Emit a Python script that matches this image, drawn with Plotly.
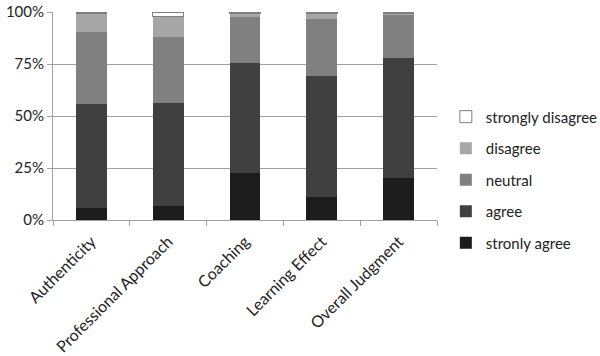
import plotly.graph_objects as go

categories = ["Authenticity", "Professional Approach", "Coaching", "Learning Effect", "Overall Judgment"]
strongly_agree = [5.6, 6.9, 22.5, 10.9, 20.4]
agree = [50.1, 49.4, 53.2, 58.1, 57.4]
neutral = [34.7, 31.5, 21.7, 27.6, 20.9]
disagree = [9.1, 10.2, 2.1, 2.9, 0.8]
strongly_disagree = [0.5, 2.0, 0.5, 0.5, 0.5]
series_names = ["stronly agree", "agree", "neutral", "disagree", "strongly disagree"]
y_ticks = [0, 0.25, 0.5, 0.75, 1.0]

series = [strongly_agree, agree, neutral, disagree, strongly_disagree]
colors = ["#1c1c1c", "#404040", "#808080", "#a6a6a6", "#ffffff"]
lines = ["#1c1c1c", "#404040", "#808080", "#a6a6a6", "#7f7f7f"]
widths = [0, 0, 0, 0, 1]

fig = go.Figure()
for i, (name, vals, c, lc, w) in enumerate(zip(series_names, series, colors, lines, widths)):
    fig.add_trace(go.Bar(
        x=categories, y=[v / 100 for v in vals], name=name, legendgroup=name,
        legendrank=100 - i,
        marker=dict(color=c, line=dict(color=lc, width=w)),
    ))

font = "Lato, 'Open Sans', sans-serif"
fig.update_layout(
    barmode="stack", bargap=0.6,
    width=600, height=356,
    margin=dict(l=53, r=163, t=12, b=136, autoexpand=False),
    paper_bgcolor="white", plot_bgcolor="white",
    font=dict(family=font, size=15, color="#222222"),
    legend=dict(x=1.023, y=0.575, xanchor="left", yanchor="top",
                traceorder="grouped", tracegroupgap=9,
                font=dict(size=15, color="#222222")),
    showlegend=True,
)
fig.update_yaxes(range=[0, 1], tickvals=y_ticks, tickformat=".0%", automargin=False,
                 ticklabeloverflow="allow",
                 showgrid=True, gridcolor="#a0a0a0", gridwidth=1,
                 ticks="outside", ticklen=5, tickcolor="#a0a0a0",
                 showline=True, linecolor="#a0a0a0", linewidth=1, zeroline=False)
fig.update_xaxes(tickangle=-45, tickson="boundaries", ticks="outside", ticklen=5, automargin=False,
                 tickfont=dict(size=16), ticklabelstandoff=5,
                 tickcolor="#a0a0a0", showline=True, linecolor="#a0a0a0", linewidth=1)

fig.write_html("out.html", config={"displayModeBar": False},
               post_script="document.body.style.margin='0';document.body.style.overflow='hidden';")
